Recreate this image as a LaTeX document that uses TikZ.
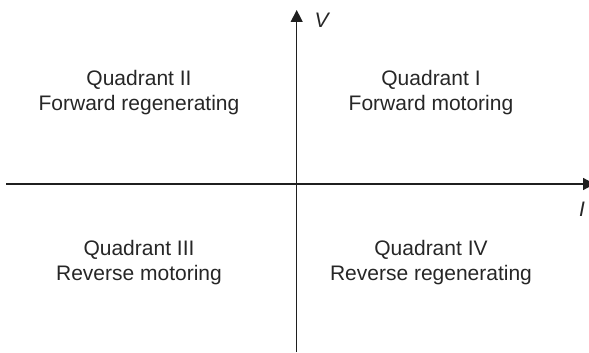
\documentclass[tikz,border=0pt]{standalone}
\usepackage{fontspec}
\setmainfont{Liberation Sans}
\usetikzlibrary{arrows.meta}
\begin{document}
\begin{tikzpicture}[x=1pt,y=-1pt,
  axis/.style={line width=1.2pt,draw=black!88,-{Triangle[width=12pt,length=12pt,fill=black!88]}},
  qlabel/.style={align=center,font=\fontsize{21}{25}\selectfont,text=black!85,inner sep=0pt,anchor=north},
  axlabel/.style={font=\fontsize{21}{24}\selectfont\itshape,text=black!85,inner sep=0pt}]
\useasboundingbox (0,0) rectangle (589,353);
\coordinate (hs) at (6,184);
\coordinate (he) at (595,184);
\coordinate (vs) at (296.7,352);
\coordinate (ve) at (296.7,10);
\draw[axis] (hs) -- (he);
\draw[axis] (vs) -- (ve);
\node[axlabel] (V) at (321.5,20.5) {V};
\node[axlabel] (I) at (582,209.5) {I};
\node[qlabel] (q2) at (139,69.7) {Quadrant II\\Forward regenerating};
\node[qlabel] (q1) at (431,69.7) {Quadrant I\\Forward motoring};
\node[qlabel] (q3) at (139,239.7) {Quadrant III\\Reverse motoring};
\node[qlabel] (q4) at (431,239.7) {Quadrant IV\\Reverse regenerating};
\end{tikzpicture}
\end{document}
